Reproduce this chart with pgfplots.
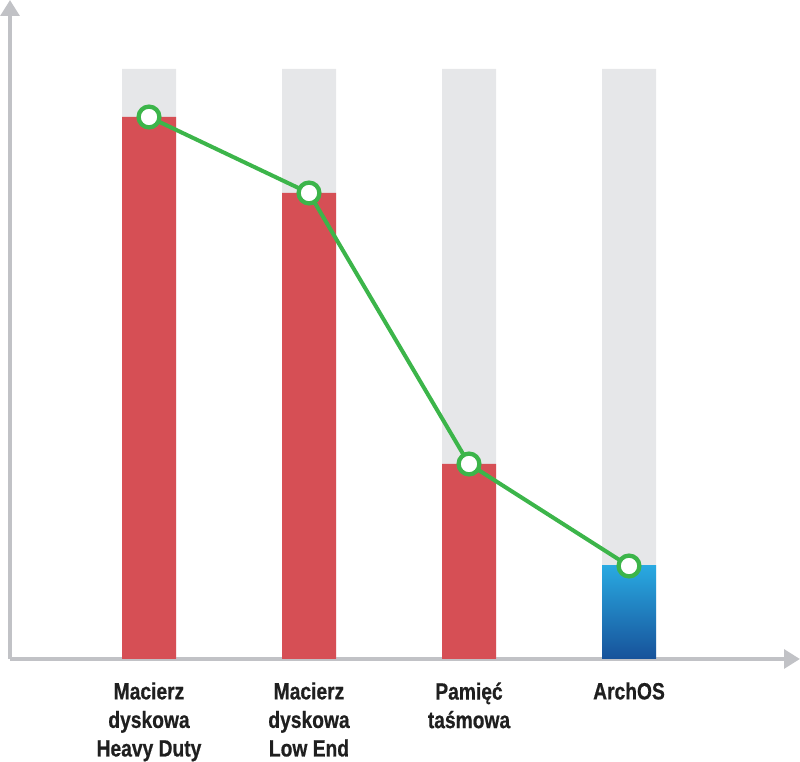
\documentclass[border=0pt]{standalone}
\usepackage{pgfplots}
\pgfplotsset{compat=1.18}
\usepackage{fontspec}
\setmainfont[FakeStretch=0.82, BoldFeatures={FakeBold=0.6}]{Liberation Sans}
\usetikzlibrary{arrows.meta}
\definecolor{axgray}{HTML}{C1C2C6}
\definecolor{bggray}{HTML}{E6E7E9}
\definecolor{barred}{HTML}{D64F55}
\definecolor{lgreen}{HTML}{3CB54A}
\definecolor{btop}{HTML}{29A9E1}
\definecolor{bbot}{HTML}{17529A}
\begin{document}
\begin{tikzpicture}
\begin{axis}[
  scale only axis,
  width=592.5pt, height=494.25pt,
  xmin=10, xmax=800, ymin=0, ymax=659,
  axis lines=left,
  axis line style={draw=axgray, line width=3.3pt, -{Triangle[width=14pt,length=12pt]}},
  ytick=\empty,
  xtick={149,309,469,629},
  xticklabels={{Macierz\\dyskowa\\Heavy Duty},{Macierz\\dyskowa\\Low End},{Pamięć\\taśmowa},{ArchOS}},
  major tick length=0pt,
  xticklabel style={align=center, font=\fontsize{17.6pt}{21.4pt}\selectfont\bfseries, text=black!88, yshift=-14pt},
  clip=false,
  ybar, bar width=54, bar shift=0pt,
]
\addplot[fill=bggray, draw=none] coordinates {(149,590) (309,590) (469,590) (629,590)};
\addplot[fill=barred, draw=none] coordinates {(149,542) (309,466) (469,195)};
\addplot[draw=none, shading=axis, top color=btop, bottom color=bbot] coordinates {(629,93)};
\addplot[sharp plot, lgreen, line width=3pt, mark=*, mark size=7.8pt, mark options={fill=white, draw=lgreen, line width=3.2pt}] coordinates {(149,542) (309,466) (469,195) (629,93)};
\coordinate (bl) at (axis cs:0,-103);
\coordinate (tr) at (axis cs:800,659);
\end{axis}
\pgfresetboundingbox
\path[use as bounding box] (bl) rectangle (tr);
\end{tikzpicture}
\end{document}
